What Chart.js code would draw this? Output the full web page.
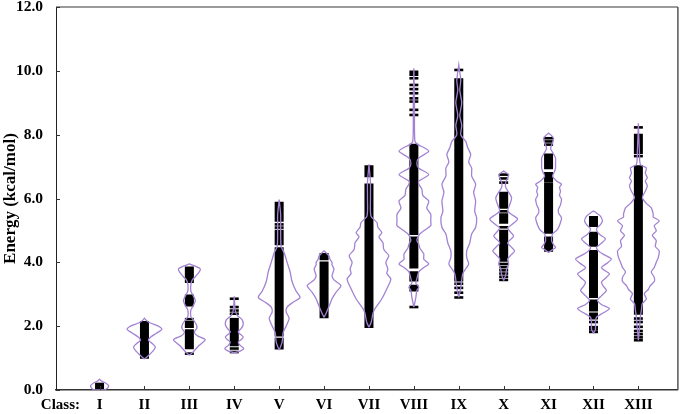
<!DOCTYPE html>
<html><head><meta charset="utf-8">
<script src="https://cdn.jsdelivr.net/npm/chart.js@4.4.1/dist/chart.umd.min.js"></script>
<style>html,body{margin:0;padding:0;background:#fff;}#wrap{width:685px;height:414px;}</style>
</head><body><div id="wrap"><canvas id="c" width="685" height="414"></canvas></div>
<script>
// ---------------- data ----------------
const classLabels = ['I','II','III','IV','V','VI','VII','VIII','IX','X','XI','XII','XIII'];
const yTickValues = [0, 2, 4, 6, 8, 10, 12];

// violin density profiles per class: [energy, density]
const violinProfiles = [
  [[0.0,5],[0.06,8],[0.14,9],[0.22,6],[0.28,2],[0.34,0]],
  [[0.97,0],[1.05,3],[1.2,8],[1.35,11],[1.48,7],[1.56,4],[1.65,6],[1.78,12],[1.9,17.5],[2.0,14],[2.1,6],[2.18,2],[2.25,0]],
  [[1.09,0],[1.2,4],[1.4,10],[1.58,16],[1.7,8],[1.81,5],[1.93,7.5],[2.05,7],[2.2,4],[2.3,1.5],[2.5,1.5],[2.65,4],[2.8,6],[2.95,4],[3.1,1.5],[3.3,1.5],[3.45,3],[3.55,6],[3.7,10],[3.8,11],[3.88,6],[3.95,0]],
  [[1.17,0],[1.22,6],[1.3,9.5],[1.4,6],[1.5,4],[1.58,7],[1.66,9],[1.75,6],[1.82,4],[1.93,7],[2.05,9],[2.2,8],[2.34,3],[2.5,1],[2.94,0]],
  [[1.25,0],[1.5,3],[1.8,4],[2.0,7],[2.25,10],[2.45,7],[2.6,8],[2.75,14],[2.9,21],[3.1,17],[3.4,13],[3.7,11],[4.0,8],[4.3,5],[4.5,2],[5.0,1.5],[5.5,1.5],[5.97,0]],
  [[2.28,0],[2.4,2],[2.55,4],[2.7,6],[2.86,8],[3.06,12],[3.27,17],[3.45,10],[3.58,8],[3.79,10],[3.92,8],[4.0,8],[4.1,6],[4.2,5],[4.36,0]],
  [[1.97,0],[2.1,2],[2.23,3],[2.4,4],[2.55,6],[2.86,13],[3.17,18],[3.48,22],[3.65,18],[3.79,19],[4.0,17],[4.21,20],[4.4,15],[4.62,14],[4.8,10],[4.93,13],[5.1,9],[5.25,8],[5.45,2],[6.0,1.5],[6.5,1.5],[7.07,0]],
  [[2.6,0],[2.9,2],[3.12,3],[3.22,5],[3.35,2],[3.49,3],[3.7,5],[3.84,10],[3.95,15],[4.1,10],[4.26,10],[4.45,6],[4.57,5],[4.7,3],[4.89,6],[4.99,10],[5.15,17],[5.3,17],[5.51,17],[5.7,13],[5.92,15],[6.1,9],[6.3,8],[6.45,5],[6.55,5],[6.75,15],[6.95,5],[7.1,3],[7.27,5],[7.48,15],[7.6,10],[7.69,4],[7.8,1],[9.0,0.6],[10.08,0]],
  [[2.9,0],[3.2,2],[3.45,3],[3.64,4],[3.8,7],[3.95,10],[4.15,8],[4.36,8],[4.6,11],[4.89,13],[5.1,17],[5.4,18],[5.6,16],[5.92,17],[6.2,15],[6.45,17],[6.7,13],[6.95,13],[7.15,10],[7.38,12],[7.6,9],[7.79,7],[8.0,2],[8.3,3],[8.6,1],[9.0,3],[9.4,1],[9.7,2],[10.18,0]],
  [[3.43,0],[3.6,2],[3.8,3],[3.95,5],[4.11,4],[4.25,8],[4.36,11],[4.5,7],[4.61,4],[4.72,7],[4.83,10],[4.95,7],[5.08,4],[5.2,9],[5.36,14],[5.5,8],[5.61,4],[5.8,6],[6.02,8],[6.2,5],[6.35,2],[6.5,2],[6.65,4],[6.75,5],[6.86,0]],
  [[4.31,0],[4.4,4],[4.47,7],[4.55,5],[4.68,3],[4.89,4],[5.0,8],[5.09,10],[5.25,12],[5.4,13],[5.55,10],[5.67,10],[5.8,12],[5.98,13],[6.1,11],[6.23,12],[6.35,11],[6.45,13],[6.55,8],[6.7,4],[6.85,6],[6.96,7],[7.1,7],[7.27,7],[7.45,4],[7.58,2],[7.75,4],[7.89,5],[7.97,3],[8.05,0]],
  [[1.78,0],[1.9,2],[2.1,2],[2.28,3],[2.42,10],[2.55,16],[2.68,8],[2.81,4],[2.95,8],[3.12,13],[3.25,10],[3.38,8],[3.5,12],[3.64,16],[3.75,11],[3.84,8],[3.98,14],[4.11,18],[4.25,10],[4.36,5],[4.47,3],[4.6,8],[4.74,12],[4.88,6],[5.05,3],[5.18,7],[5.3,9],[5.45,7],[5.55,3],[5.61,0]],
  [[1.56,0],[1.9,1],[2.28,2],[2.5,3],[2.71,4],[2.85,8],[3.02,6],[3.15,10],[3.27,12],[3.4,16],[3.53,16],[3.7,13],[3.84,16],[4.0,18],[4.15,20],[4.36,21],[4.5,17],[4.68,18],[4.85,14],[4.99,18],[5.15,16],[5.3,21],[5.42,15],[5.51,15],[5.71,13],[5.85,8],[6.03,4],[6.23,7],[6.4,9],[6.55,7],[6.65,9],[6.8,7],[6.96,8],[7.07,2],[7.5,1],[8.36,0]]
];

// dense runs of individual energies per class: [low, high]
const denseRuns = [
  [[0.0,0.2]],
  [[1.01,1.52],[1.58,2.13]],
  [[1.31,1.6],[1.64,1.87],[1.97,2.13],[2.65,2.96],[3.38,3.84]],
  [[1.4,2.23]],
  [[1.3,1.61],[1.71,4.44],[4.57,4.99],[5.3,5.87]],
  [[2.28,4.0],[4.1,4.26]],
  [[1.97,6.44],[6.7,7.01]],
  [[3.12,3.27],[3.43,3.69],[3.84,4.78],[4.89,7.07],[7.11,7.69],[9.87,9.98]],
  [[3.43,8.3],[8.34,9.02],[9.06,9.74]],
  [[4.05,4.3],[4.36,4.99],[5.24,5.51],[5.71,6.18]],
  [[4.36,4.78],[4.93,6.48],[6.55,6.8],[6.95,7.38]],
  [[2.24,2.4],[2.49,2.81],[2.91,4.36],[4.52,4.93],[5.14,5.42]],
  [[2.39,7.01],[7.43,8.0]]
];

// isolated energies per class
const singleMarks = [
  [],
  [],
  [1.14,2.22],
  [1.19,1.3,2.39,2.49,2.6,2.86],
  [5.09,5.19],
  [],
  [],
  [2.6,8.62,8.78,9.04,9.14,9.3,9.43,9.56,9.77],
  [2.9,3.05,3.2,3.33,10.03],
  [3.45,3.55,3.65,3.75,3.85,3.95,5.1,5.6,6.5,6.63,6.75],
  [7.69,7.79,7.89],
  [1.82,1.9,1.97,2.13],
  [1.56,1.65,1.75,1.85,1.98,2.13,2.24,7.33,8.23]
];

// ---------------- chart ----------------
const PX = 1 / 45.25;          // x-units per density unit
const PURPLE = '#a382d4';
const FONT = "'Liberation Serif','Times New Roman',serif";

const datasets = [];
violinProfiles.forEach((prof, i) => {
  const c = i + 1;
  const pts = [];
  prof.forEach(([e, w]) => pts.push({x: c + w * PX, y: e}));
  for (let k = prof.length - 1; k >= 0; k--) pts.push({x: c - prof[k][1] * PX, y: prof[k][0]});
  pts.push(pts[0]);
  datasets.push({data: pts, showLine: true, borderColor: PURPLE, borderWidth: 1.3,
    pointRadius: 0, tension: 0.25, fill: false, order: 0});
});
denseRuns.forEach((runs, i) => {
  const c = i + 1;
  const pts = [];
  runs.forEach(([lo, hi]) => { pts.push({x: c, y: lo - 0.03}, {x: c, y: hi + 0.03}, {x: c, y: null}); });
  datasets.push({data: pts, showLine: true, spanGaps: false, borderColor: '#000', borderWidth: 9,
    borderCapStyle: 'butt', pointRadius: 0, tension: 0, order: 1});
});
const marks = [];
singleMarks.forEach((arr, i) => arr.forEach(e => marks.push({x: i + 1, y: e})));
datasets.push({data: marks, showLine: false, pointStyle: 'line', pointRadius: 4.5,
  pointBorderWidth: 2.6, pointBorderColor: '#000', pointBackgroundColor: '#000', order: 1});

const decor = {
  id: 'decor',
  afterDraw(chart) {
    const ctx = chart.ctx, a = chart.chartArea;
    const xs = chart.scales.x, ys = chart.scales.y;
    ctx.save();
    ctx.strokeStyle = '#9a9a9a'; ctx.lineWidth = 2;
    ctx.beginPath(); ctx.moveTo(a.left, a.top); ctx.lineTo(a.right, a.top); ctx.stroke();
    ctx.strokeStyle = '#555'; ctx.lineWidth = 1.5;
    ctx.beginPath(); ctx.moveTo(a.right, a.top); ctx.lineTo(a.right, a.bottom); ctx.stroke();
    ctx.strokeStyle = '#333'; ctx.lineWidth = 1;
    yTickValues.forEach(v => { const y = Math.round(ys.getPixelForValue(v)) + 0.5;
      ctx.beginPath(); ctx.moveTo(a.left, y); ctx.lineTo(a.left + 4, y); ctx.stroke(); });
    classLabels.forEach((_, i) => { const x = Math.round(xs.getPixelForValue(i + 1)) + 0.5;
      ctx.beginPath(); ctx.moveTo(x, a.bottom); ctx.lineTo(x, a.bottom - 4); ctx.stroke(); });
    ctx.fillStyle = '#000'; ctx.font = 'bold 15px ' + FONT;
    ctx.textAlign = 'right'; ctx.textBaseline = 'middle';
    ctx.fillText('Class:', 80, 405);
    ctx.restore();
  }
};

new Chart(document.getElementById('c'), {
  type: 'scatter',
  data: {datasets},
  options: {
    responsive: false, animation: false, devicePixelRatio: 1,
    layout: {padding: {top: 5, right: 2, left: 0, bottom: 0}},
    plugins: {legend: {display: false}, tooltip: {enabled: false}},
    scales: {
      x: {type: 'linear', min: 0.03, max: 13.88,
        grid: {display: false, drawTicks: false},
        border: {display: true, color: '#333', width: 1.5},
        afterBuildTicks: s => { s.ticks = classLabels.map((_, i) => ({value: i + 1})); },
        afterFit: s => { s.height = 24; s.paddingLeft = 0; s.paddingRight = 0; },
        ticks: {autoSkip: false, maxRotation: 0, padding: 6, color: '#000',
          font: {family: FONT, size: 15, weight: 'bold'},
          callback: v => classLabels[v - 1]}},
      y: {type: 'linear', min: 0, max: 12,
        grid: {display: false, drawTicks: false},
        border: {display: true, color: '#222', width: 1},
        afterBuildTicks: s => { s.ticks = yTickValues.map(v => ({value: v})); },
        afterFit: s => { s.width = 56; s.paddingTop = 0; s.paddingBottom = 0; },
        ticks: {padding: 13, color: '#000', font: {family: FONT, size: 15.5, weight: 'bold'},
          callback: v => Number(v).toFixed(1)},
        title: {display: true, text: 'Energy (kcal/mol)', color: '#000', padding: {top: 0, bottom: 0},
          font: {family: FONT, size: 17, weight: 'bold'}}}
    }
  },
  plugins: [decor]
});
</script></body></html>
